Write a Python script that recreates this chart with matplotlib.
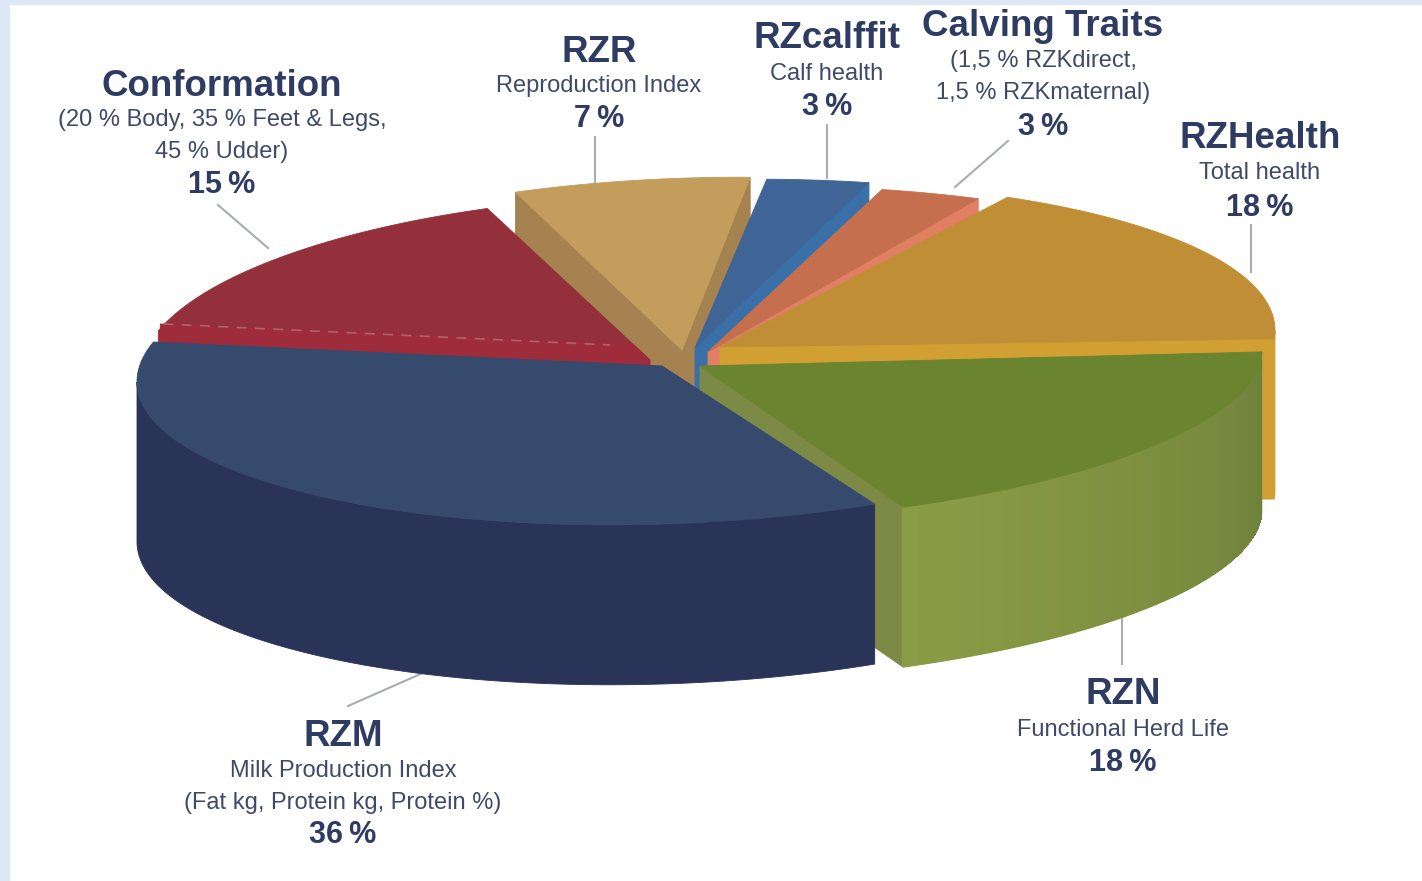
import numpy as np
import matplotlib.pyplot as plt
from matplotlib.patches import Polygon, Rectangle
from matplotlib.colors import to_rgb

plt.rcParams['font.family'] = ['Liberation Sans', 'DejaVu Sans']

# slices, counter clockwise from the right hand side
names = ['RZHealth', 'Calving Traits', 'RZcalffit', 'RZR', 'Conformation', 'RZM', 'RZN']
shares = [18, 3, 3, 7, 15, 36, 18]
subtitles = [['Total health'],
             ['(1,5 % RZKdirect,', '1,5 % RZKmaternal)'],
             ['Calf health'],
             ['Reproduction Index'],
             ['(20 % Body, 35 % Feet & Legs,', '45 % Udder)'],
             ['Milk Production Index', '(Fat kg, Protein kg, Protein %)'],
             ['Functional Herd Life']]

top_colors = ['#c08f35', '#c66f4f', '#3f6496', '#c29d5c', '#93303c', '#354a6d', '#6a842f']
cut_colors = ['#d2a032', '#e07f62', '#3a70a8', '#a5824f', '#9f2c3b', '#2a3459', '#7d8a45']
wall_left = ['#d2a032', '#c66f4f', '#3a70a8', '#a5824f', '#8c2b38', '#2a3459', '#8a9c45']
wall_right = ['#d2a032', '#c66f4f', '#3a70a8', '#a5824f', '#8c2b38', '#2a3459', '#6d803a']

# per slice geometry: exploded centre and radii, in pixels
centre_x = [720, 716, 703, 688, 650, 662, 700]
centre_y = [347, 352, 348, 350, 360, 366, 366]
radius_x = [555, 555, 555, 541, 510, 525, 562]
radius_y = [165, 165, 168, 172, 165, 158, 158]
apex_shift = [0, -8, -8, -6, 0, 0, 0]

# the drawing is in perspective, so a few cut edges sit slightly off the flat angle
start_nudge = [0, 0, 0, 0, 0, 3, -1]
end_nudge = [-3, 0, 0, 0, 2, 1.7, 2]

START_ANGLE = -3
DEPTH = 160
TILT = 0.03

# label centres: title, then lines below
label_x = [1260, 1043, 827, 599, 222, 343, 1123]
title_y = [138, 27, 38, 52, 86, 736, 694]
first_line_y = [173, 61, 74, 86, 120, 771, 730]
percent_y = [208, 127, 107, 119, 185, 835, 763]
line_step = 32
leaders = [((1251, 225), (1251, 272)),
           ((1008, 141), (955, 187)),
           ((827, 125), (827, 178)),
           ((595, 137), (595, 190)),
           ((218, 205), (268, 248)),
           ((425, 672), (348, 706)),
           ((1122, 618), (1122, 664))]


def rim(i, t):
    t = np.radians(t)
    x = radius_x[i] * np.cos(t)
    y = -radius_y[i] * np.sin(t) - TILT * x
    return centre_x[i] + x, centre_y[i] + y


def add_poly(ax, pts, color, z, smooth=True):
    ax.add_patch(Polygon(pts, closed=True, facecolor=color, edgecolor=color, lw=0.6,
                         antialiased=smooth, zorder=z))


def draw_slice(ax, i, t0, t1, z):
    cx, cy = centre_x[i] + apex_shift[i], centre_y[i]
    # cut faces, only those turned towards the viewer
    for t, normal in ((t0, t0 - 90), (t1, t1 + 90)):
        if np.sin(np.radians(normal)) < 0:
            x, y = rim(i, t)
            add_poly(ax, [(cx, cy), (x, y), (x, y + DEPTH), (cx, cy + DEPTH)], cut_colors[i], z)
    # outer wall: one solid shape, then strips on top so it can shade across
    ts = np.linspace(t0, t1, 240)
    ts = ts[np.sin(np.radians(ts)) <= 0]
    if len(ts) > 1:
        xs, ys = rim(i, ts)
        outline = list(zip(xs, ys)) + list(zip(xs[::-1], ys[::-1] + DEPTH))
        add_poly(ax, outline, wall_left[i], z)
        if wall_left[i] != wall_right[i]:
            c0, c1 = np.array(to_rgb(wall_left[i])), np.array(to_rgb(wall_right[i]))
            steps = ts[::6]
            for a, b in zip(steps[:-1], steps[1:]):
                xa, ya = rim(i, a)
                xb, yb = rim(i, b)
                f = (a - ts[0]) / (ts[-1] - ts[0])
                add_poly(ax, [(xa, ya), (xb, yb), (xb, yb + DEPTH - 1), (xa, ya + DEPTH - 1)],
                         c0 + (c1 - c0) * f, z, smooth=False)
    # top face
    ts = np.linspace(t0, t1, 120)
    xs, ys = rim(i, ts)
    add_poly(ax, [(cx, cy)] + list(zip(xs, ys)), top_colors[i], z + 0.5)


fig = plt.figure(figsize=(14.22, 8.81), dpi=100, facecolor='#dde8f7')
ax = fig.add_axes([0, 0, 1, 1])
ax.set_xlim(0, 1422)
ax.set_ylim(881, 0)
ax.axis('off')
ax.add_patch(Rectangle((10, 5), 1412, 876, facecolor='white', edgecolor='none', zorder=0))

edges = START_ANGLE + np.cumsum([0] + shares) * 3.6
draw_order = [3, 2, 1, 0, 4, 6, 5]
for z, i in enumerate(draw_order):
    draw_slice(ax, i, edges[i] + start_nudge[i], edges[i + 1] + end_nudge[i], 2 + z)

# brighter strip and faint dashes on the red slice, along its lower cut
x0, y0 = rim(4, edges[5] + end_nudge[4])
xs0, ys0 = rim(4, edges[4])
cx4, cy4 = centre_x[4], centre_y[4]
near = (cx4 + 0.1 * (xs0 - cx4), cy4 + 0.1 * (ys0 - cy4))
z_red = 2 + draw_order.index(4) + 0.6
add_poly(ax, [(x0 + 2, y0 - 7), near, (cx4, cy4), (x0 + 2, y0 + 16)], cut_colors[4], z_red)
ax.plot([x0 + 5, cx4 - 40], [y0 - 7, cy4 - 15], color='#b4606a', lw=1.2,
        ls=(0, (6, 5)), zorder=z_red + 0.1)

for p, q in leaders:
    ax.plot([p[0], q[0]], [p[1], q[1]], color='#a9adb0', lw=1.5, zorder=1)

for i, name in enumerate(names):
    x = label_x[i]
    ax.text(x, title_y[i], name, ha='center', va='center', fontsize=26.5, fontweight='bold', color='#2f3c62')
    y = first_line_y[i]
    for line in subtitles[i]:
        ax.text(x, y, line, ha='center', va='center', fontsize=17, color='#3f4a68')
        y += line_step
    ax.text(x, percent_y[i], '%d\u2009%%' % shares[i], ha='center', va='center', fontsize=22,
            fontweight='bold', color='#2f3c62')

fig.savefig('out.png', dpi=100, facecolor=fig.get_facecolor())
